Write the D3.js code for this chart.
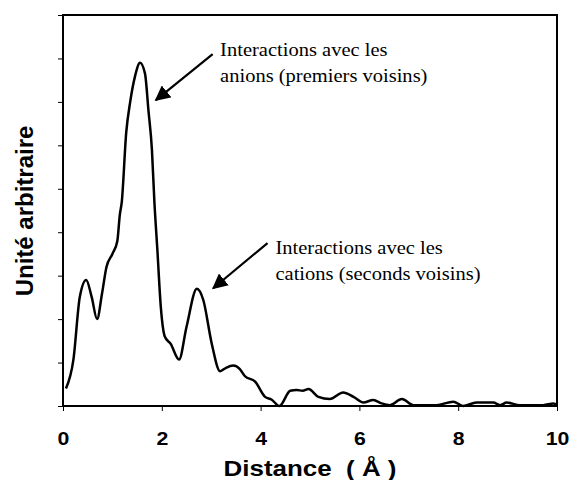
<!DOCTYPE html>
<html>
<head>
<meta charset="utf-8">
<script src="https://cdn.jsdelivr.net/npm/d3@7"></script>
<style>
  html, body { margin: 0; padding: 0; background: #fff; }
  svg { display: block; }
</style>
</head>
<body>
<svg id="chart" width="569" height="480"></svg>
<script>
// Radial distribution (arbitrary units) versus distance in ångström
const distance = [0.06, 0.21, 0.34, 0.47, 0.58, 0.69, 0.79, 0.88, 1.0, 1.1, 1.15, 1.19, 1.28, 1.36, 1.46,
  1.56, 1.66, 1.73, 1.8, 1.85, 1.91, 1.98, 2.06, 2.18, 2.35, 2.5, 2.71, 2.84, 3.01, 3.18, 3.3, 3.45,
  3.58, 3.68, 3.89, 4.09, 4.22, 4.38, 4.6, 4.73, 4.85, 4.97, 5.17, 5.4, 5.67, 5.88, 6.08, 6.28, 6.45,
  6.62, 6.86, 7.09, 7.56, 7.9, 8.1, 8.37, 8.71, 8.85, 8.98, 9.25, 9.72, 9.93, 10.0];
const intensity = [0.4, 1.06, 2.51, 2.9, 2.51, 2.0, 2.59, 3.2, 3.5, 3.8, 4.4, 4.7, 6.3, 7.0, 7.6,
  7.9, 7.65, 6.8, 5.9, 4.7, 3.6, 2.28, 1.6, 1.43, 1.07, 1.82, 2.7, 2.44, 1.44, 0.8, 0.88, 0.93,
  0.85, 0.69, 0.56, 0.21, 0.15, 0.0, 0.35, 0.37, 0.35, 0.39, 0.21, 0.16, 0.31, 0.21, 0.08, 0.14, 0.06,
  0.02, 0.16, 0.02, 0.02, 0.1, 0.0, 0.08, 0.08, 0.02, 0.08, 0.02, 0.02, 0.06, 0.02];

const xTicks = [0, 2, 4, 6, 8, 10];
const yTicks = [0, 1, 2, 3, 4, 5, 6, 7, 8, 9];
const xTitle = "Distance  ( Å )";
const yTitle = "Unité arbitraire";

// Annotation texts and arrow end points, in data units
const notes = [
  { lines: ["Interactions avec les", "anions (premiers voisins)"], at: [3.18, 8.05], from: [3.03, 8.1], to: [1.88, 7.04] },
  { lines: ["Interactions avec les", "cations (seconds voisins)"], at: [4.3, 3.5], from: [4.14, 3.75], to: [3.04, 2.71] }
];

const margin = { top: 15, right: 12, bottom: 74, left: 63 };
const W = 569, H = 480;
const iw = W - margin.left - margin.right;
const ih = H - margin.top - margin.bottom;

const svg = d3.select("#chart");
const g = svg.append("g").attr("transform", `translate(${margin.left},${margin.top})`);

const x = d3.scaleLinear().domain([0, 10]).range([0, iw]);
const y = d3.scaleLinear().domain([0, 9]).range([ih, 0]);

const sans = "'Liberation Sans', Arial, sans-serif";
const serif = "'Liberation Serif', 'Times New Roman', serif";
const stretch = 1.15;

// Axes
const xAxis = g.append("g").attr("transform", `translate(0,${ih})`)
  .call(d3.axisBottom(x).tickValues(xTicks).tickSize(5).tickPadding(21).tickFormat(d3.format("d")));
xAxis.select(".domain").remove();
xAxis.selectAll("line").attr("stroke", "#000").attr("stroke-width", 1);
xAxis.selectAll("text")
  .attr("font-family", sans).attr("font-weight", "bold").attr("font-size", 18.5).attr("fill", "#000")
  .attr("transform", `scale(${stretch},1)`);

const yAxis = g.append("g")
  .call(d3.axisLeft(y).tickValues(yTicks).tickSize(5).tickFormat(""));
yAxis.select(".domain").remove();
yAxis.selectAll("line").attr("stroke", "#000").attr("stroke-width", 1);

// Plot frame
g.append("rect").attr("x", 0).attr("y", 0).attr("width", iw).attr("height", ih)
  .attr("fill", "none").attr("stroke", "#000").attr("stroke-width", 2);

// Curve
const line = d3.line()
  .x((d, i) => x(distance[i]))
  .y((d, i) => y(intensity[i]))
  .curve(d3.curveMonotoneX);
g.append("path").datum(intensity).attr("d", line)
  .attr("fill", "none").attr("stroke", "#000").attr("stroke-width", 2.5)
  .attr("stroke-linejoin", "round");

// Arrow heads
svg.append("defs").append("marker")
  .attr("id", "head").attr("viewBox", "0 0 10 10").attr("refX", 9).attr("refY", 5)
  .attr("markerWidth", 7).attr("markerHeight", 7).attr("markerUnits", "strokeWidth")
  .attr("orient", "auto")
  .append("path").attr("d", "M0,0 L10,5 L0,10 Z").attr("fill", "#000");

// Annotations
notes.forEach(n => {
  g.append("line")
    .attr("x1", x(n.from[0])).attr("y1", y(n.from[1]))
    .attr("x2", x(n.to[0])).attr("y2", y(n.to[1]))
    .attr("stroke", "#000").attr("stroke-width", 2.2).attr("marker-end", "url(#head)");
  const t = g.append("g")
    .attr("transform", `translate(${x(n.at[0])},${y(n.at[1])}) scale(1.08,1)`);
  n.lines.forEach((s, i) => {
    t.append("text").attr("x", 0).attr("y", i * 26)
      .attr("font-family", serif).attr("font-size", 19).attr("fill", "#000").text(s);
  });
});

// Axis titles
svg.append("text")
  .attr("transform", `translate(${margin.left + iw / 2},476) scale(1.18,1)`)
  .attr("text-anchor", "middle").attr("font-family", sans).attr("font-weight", "bold")
  .attr("font-size", 22).attr("fill", "#000")
  .style("white-space", "pre").text(xTitle);

svg.append("text")
  .attr("transform", `translate(33,211) rotate(-90)`)
  .attr("text-anchor", "middle").attr("font-family", sans).attr("font-weight", "bold")
  .attr("font-size", 24).attr("fill", "#000").text(yTitle);
</script>
</body>
</html>
